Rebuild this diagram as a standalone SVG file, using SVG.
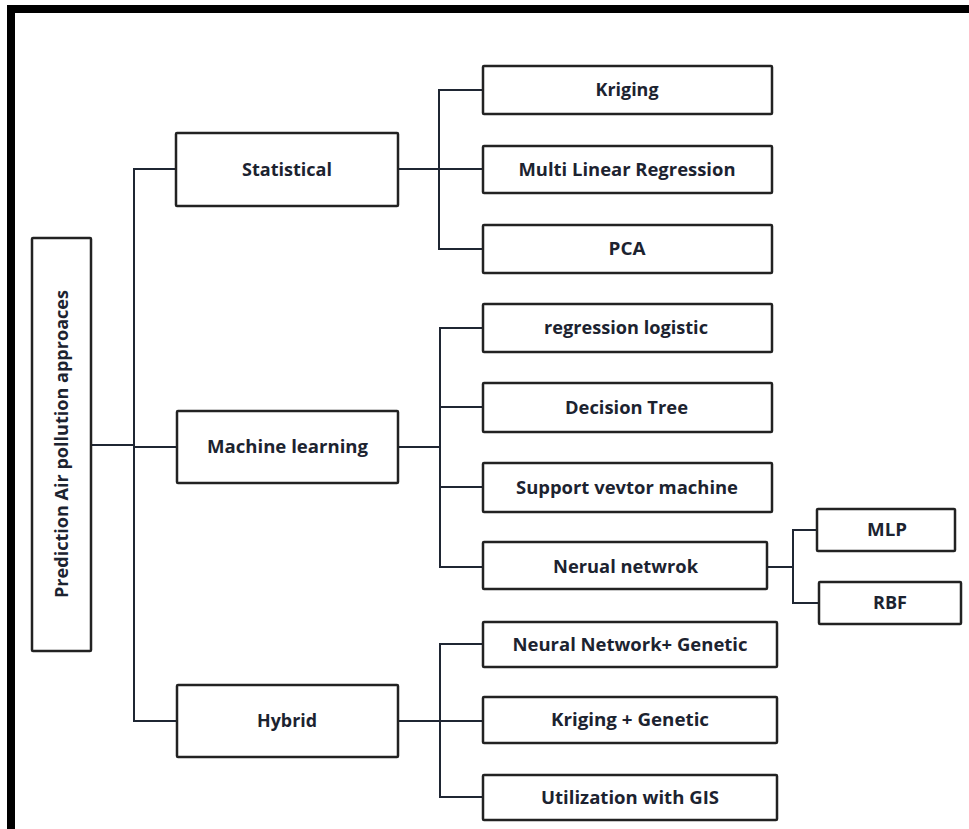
<svg xmlns="http://www.w3.org/2000/svg" width="969" height="829" viewBox="0 0 969 829">
<style>
.box{fill:#fff;stroke:#222;stroke-width:2.5}
.t{font-family:"Open Sans","Liberation Sans",sans-serif;font-weight:bold;font-size:17px;fill:#1c2330;text-anchor:middle}
.c{fill:none;stroke:#1f2633;stroke-width:2}
</style>
<rect width="969" height="829" fill="#fff"/>
<path d="M11,829 V9 H969" fill="none" stroke="#000" stroke-width="8" stroke-linejoin="miter"/>
<g id="connectors">
<path class="c" d="M91,445 H134" stroke-width="3"/>
<path class="c" d="M177,169 H134 V721 H177"/>
<path class="c" d="M134,447 H177"/>
<path class="c" d="M398,169 H483"/>
<path class="c" d="M483,90 H439 V249 H483"/>
<path class="c" d="M398,447 H440"/>
<path class="c" d="M483,328 H440 V567 H483"/>
<path class="c" d="M440,407 H483"/>
<path class="c" d="M440,487 H483"/>
<path class="c" d="M767,567 H793"/>
<path class="c" d="M817,530 H793 V603 H819"/>
<path class="c" d="M398,721 H483"/>
<path class="c" d="M483,644 H440 V797 H483"/>
</g>
<g id="root">
<rect class="box" x="32" y="238" width="59" height="413" rx="1"/>
<text class="t" transform="translate(68,444) rotate(-90)" textLength="308" lengthAdjust="spacingAndGlyphs">Prediction Air pollution approaces</text>
</g>
<g id="statistical">
<rect class="box" x="176" y="133" width="222" height="73" rx="1"/>
<text class="t" x="287" y="176" textLength="90" lengthAdjust="spacingAndGlyphs">Statistical</text>
</g>
<g id="machine-learning">
<rect class="box" x="177" y="411" width="221" height="72" rx="1"/>
<text class="t" x="287.5" y="453" textLength="161" lengthAdjust="spacingAndGlyphs">Machine learning</text>
</g>
<g id="hybrid">
<rect class="box" x="177" y="685" width="221" height="72" rx="1"/>
<text class="t" x="287" y="727" textLength="60" lengthAdjust="spacingAndGlyphs">Hybrid</text>
</g>
<g id="kriging">
<rect class="box" x="483" y="66" width="289" height="48" rx="1"/>
<text class="t" x="627" y="96" textLength="63" lengthAdjust="spacingAndGlyphs">Kriging</text>
</g>
<g id="mlr">
<rect class="box" x="483" y="146" width="289" height="47" rx="1"/>
<text class="t" x="627" y="175.5" textLength="217" lengthAdjust="spacingAndGlyphs">Multi Linear Regression</text>
</g>
<g id="pca">
<rect class="box" x="483" y="225" width="289" height="48" rx="1"/>
<text class="t" x="627" y="255" textLength="37" lengthAdjust="spacingAndGlyphs">PCA</text>
</g>
<g id="regression-logistic">
<rect class="box" x="483" y="304" width="289" height="48" rx="1"/>
<text class="t" x="626" y="334" textLength="164" lengthAdjust="spacingAndGlyphs">regression logistic</text>
</g>
<g id="decision-tree">
<rect class="box" x="483" y="383" width="289" height="49" rx="1"/>
<text class="t" x="626.5" y="413.5" textLength="123" lengthAdjust="spacingAndGlyphs">Decision Tree</text>
</g>
<g id="svm">
<rect class="box" x="483" y="463" width="289" height="49" rx="1"/>
<text class="t" x="627" y="493.5" textLength="222" lengthAdjust="spacingAndGlyphs">Support vevtor machine</text>
</g>
<g id="neural-network">
<rect class="box" x="483" y="542" width="284" height="47" rx="1"/>
<text class="t" x="625.5" y="572.5" textLength="145" lengthAdjust="spacingAndGlyphs">Nerual netwrok</text>
</g>
<g id="mlp">
<rect class="box" x="817" y="509" width="138" height="42" rx="1"/>
<text class="t" x="887" y="536" textLength="40" lengthAdjust="spacingAndGlyphs">MLP</text>
</g>
<g id="rbf">
<rect class="box" x="819" y="582" width="142" height="42" rx="1"/>
<text class="t" x="890" y="609" textLength="34" lengthAdjust="spacingAndGlyphs">RBF</text>
</g>
<g id="nn-genetic">
<rect class="box" x="483" y="622" width="294" height="45" rx="1"/>
<text class="t" x="630" y="650.5" textLength="235" lengthAdjust="spacingAndGlyphs">Neural Network+ Genetic</text>
</g>
<g id="kriging-genetic">
<rect class="box" x="483" y="697" width="294" height="46" rx="1"/>
<text class="t" x="630" y="726" textLength="158" lengthAdjust="spacingAndGlyphs">Kriging + Genetic</text>
</g>
<g id="gis">
<rect class="box" x="483" y="775" width="294" height="45" rx="1"/>
<text class="t" x="630" y="803.5" textLength="178" lengthAdjust="spacingAndGlyphs">Utilization with GIS</text>
</g>
</svg>
